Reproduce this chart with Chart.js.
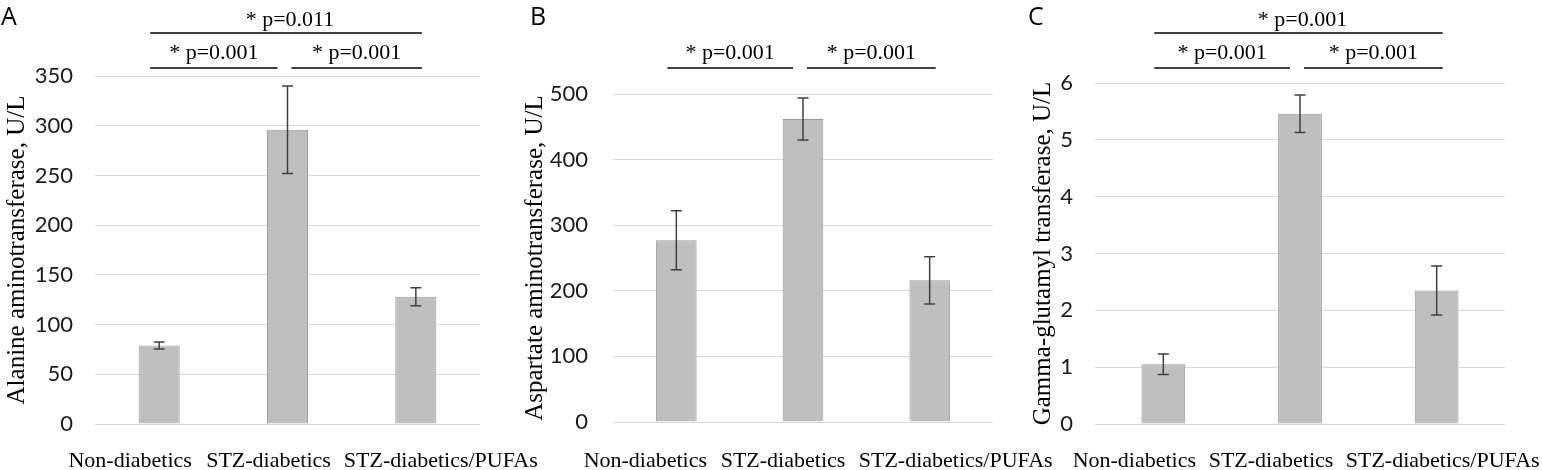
<!DOCTYPE html>
<html>
<head>
<meta charset="utf-8">
<script src="https://cdn.jsdelivr.net/npm/chart.js@4.4.0/dist/chart.umd.min.js"></script>
<style>
    html, body { margin: 0; padding: 0; background: #fff; }
    #wrap { position: relative; width: 1542px; height: 470px; }
    #wrap canvas { position: absolute; left: 0; top: 0; }
</style>
</head>
<body>
<div id="wrap">
    <canvas id="chartA" width="1542" height="470"></canvas>
    <canvas id="chartB" width="1542" height="470"></canvas>
    <canvas id="chartC" width="1542" height="470"></canvas>
</div>
<script>
// Groups on the x axis (same for all three panels)
const categories = ["Non-diabetics", "STZ-diabetics", "STZ-diabetics/PUFAs"];

// A - Alanine aminotransferase
const altMeans = [79, 296, 128];
const altErrors = [3.5, 44, 9];
const altTicks = [0, 50, 100, 150, 200, 250, 300, 350];
const altBrackets = [[0, 2, "* p=0.011"], [0, 1, "* p=0.001"], [1, 2, "* p=0.001"]];

// B - Aspartate aminotransferase
const astMeans = [277, 462, 216];
const astErrors = [45, 32, 36];
const astTicks = [0, 100, 200, 300, 400, 500];
const astBrackets = [[0, 1, "* p=0.001"], [1, 2, "* p=0.001"]];

// C - Gamma-glutamyl transferase
const ggtMeans = [1.05, 5.46, 2.35];
const ggtErrors = [0.18, 0.33, 0.43];
const ggtTicks = [0, 1, 2, 3, 4, 5, 6];
const ggtBrackets = [[0, 2, "* p=0.001"], [0, 1, "* p=0.001"], [1, 2, "* p=0.001"]];

const W = 1542, H = 470;
const serif = "'Liberation Serif', 'Times New Roman', serif";

const panels = [
    { id: "chartA", letter: "A", title: "Alanine aminotransferase, U/L",
      means: altMeans, errors: altErrors, ticks: altTicks, brackets: altBrackets,
      left: 2, axisW: 93, top: 76, right: 480, bottom: 424, tickPad: 22,
      letterX: 1, labelShift: [-29, -19, 25] },
    { id: "chartB", letter: "B", title: "Aspartate aminotransferase, U/L",
      means: astMeans, errors: astErrors, ticks: astTicks, brackets: astBrackets,
      left: 520, axisW: 93, top: 94, right: 993, bottom: 422, tickPad: 25,
      letterX: 530, labelShift: [-31, -20, 26] },
    { id: "chartC", letter: "C", title: "Gamma-glutamyl transferase, U/L",
      means: ggtMeans, errors: ggtErrors, ticks: ggtTicks, brackets: ggtBrackets,
      left: 1028, axisW: 67, top: 83, right: 1505, bottom: 424, tickPad: 22,
      letterX: 1028, labelShift: [-29, -29, 6] }
];

// error bars, significance brackets, category labels and panel letter
function overlay(p) {
    return {
        id: "overlay",
        afterDatasetsDraw(chart) {
            const ctx = chart.ctx;
            const xs = chart.scales.x, ys = chart.scales.y;
            ctx.save();
            ctx.strokeStyle = "#404040";
            ctx.lineWidth = 1.5;
            p.means.forEach(function (m, i) {
                const cx = xs.getPixelForValue(i);
                const yTop = ys.getPixelForValue(m + p.errors[i]);
                const yBot = ys.getPixelForValue(m - p.errors[i]);
                ctx.beginPath();
                ctx.moveTo(cx, yTop); ctx.lineTo(cx, yBot);
                ctx.moveTo(cx - 5.5, yTop); ctx.lineTo(cx + 5.5, yTop);
                ctx.moveTo(cx - 5.5, yBot); ctx.lineTo(cx + 5.5, yBot);
                ctx.stroke();
            });
            ctx.restore();
        },
        afterDraw(chart) {
            const ctx = chart.ctx;
            const xs = chart.scales.x;
            ctx.save();

            // brackets
            ctx.strokeStyle = "#000";
            ctx.fillStyle = "#000";
            ctx.lineWidth = 1.5;
            ctx.font = "22px " + serif;
            ctx.textAlign = "center";
            ctx.textBaseline = "alphabetic";
            p.brackets.forEach(function (b) {
                const upper = b[1] - b[0] > 1;
                const lineY = upper ? 33 : 68;
                const x1 = xs.getPixelForValue(b[0]) + (b[0] === 1 ? 4 : -9);
                const x2 = xs.getPixelForValue(b[1]) + (b[1] === 1 ? -10 : 6);
                ctx.beginPath();
                ctx.moveTo(x1, lineY); ctx.lineTo(x2, lineY);
                ctx.stroke();
                ctx.fillText(b[2], (x1 + x2) / 2 + (upper ? 4 : 0), upper ? 26 : 59);
            });

            // category labels (placed like in the original figure)
            categories.forEach(function (c, i) {
                ctx.fillText(c, xs.getPixelForValue(i) + p.labelShift[i], 467);
            });

            // panel letter
            ctx.font = "25px 'Open Sans', sans-serif";
            ctx.textAlign = "left";
            ctx.fillText(p.letter, p.letterX, 25);
            ctx.restore();
        }
    };
}

panels.forEach(function (p) {
    const ctx = document.getElementById(p.id).getContext("2d");
    new Chart(ctx, {
        type: "bar",
        data: {
            labels: categories,
            datasets: [{
                data: p.means,
                backgroundColor: "#bfbfbf",
                borderColor: "#9a9a9a",
                borderWidth: 1,
                barPercentage: 0.32,
                categoryPercentage: 1
            }]
        },
        options: {
            responsive: false,
            animation: false,
            layout: { padding: { left: p.left, top: p.top, right: W - p.right, bottom: 0 } },
            plugins: { legend: { display: false }, tooltip: { enabled: false } },
            scales: {
                x: {
                    grid: { display: false },
                    border: { display: false },
                    ticks: { display: false },
                    afterFit: function (s) {
                        s.height = H - p.bottom;
                        s.paddingLeft = 0;
                        s.paddingRight = 0;
                    }
                },
                y: {
                    min: 0,
                    max: p.ticks[p.ticks.length - 1],
                    ticks: {
                        stepSize: p.ticks[1] - p.ticks[0],
                        padding: p.tickPad,
                        color: "#1a1a1a",
                        font: { family: "Lato", size: 22 }
                    },
                    grid: { color: "#d9d9d9", lineWidth: 1, drawTicks: false },
                    border: { display: false },
                    title: {
                        display: true,
                        text: p.title,
                        color: "#000",
                        padding: 0,
                        font: { family: "Liberation Serif", size: 25, lineHeight: 1.2 }
                    },
                    afterFit: function (s) {
                        s.width = p.axisW;
                        s.paddingTop = 0;
                        s.paddingBottom = 0;
                    }
                }
            }
        },
        plugins: [overlay(p)]
    });
});
</script>
</body>
</html>
